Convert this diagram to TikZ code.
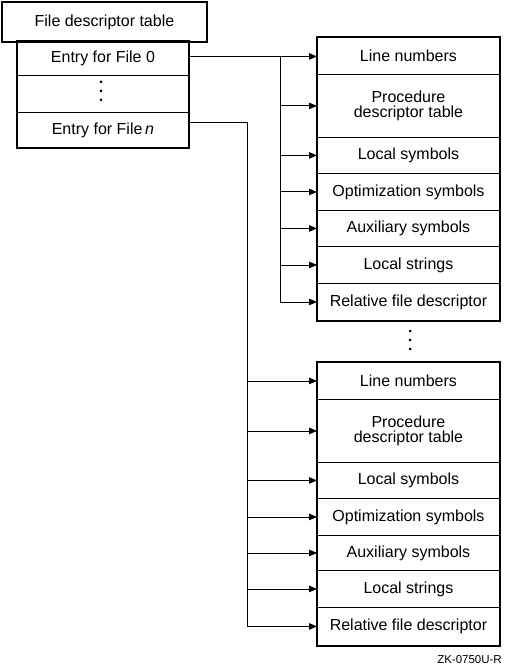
\documentclass[tikz,border=0pt]{standalone}
\usepackage{fontspec}
\setmainfont{Liberation Sans}
\usetikzlibrary{arrows.meta}
\begin{document}
\begin{tikzpicture}[x=1pt,y=-1pt,
  txt/.style={font=\fontsize{16}{17.5}\selectfont},
  cell/.style={txt,draw,line width=0.9pt,inner sep=0pt,anchor=north west,align=center},
  thickbox/.style={line width=2.2pt},
  conn/.style={line width=0.9pt},
  arr/.style={conn,-{Triangle[length=8pt,width=6.5pt]}},
  dot/.style={circle,fill,inner sep=0pt,minimum size=3pt}]
\useasboundingbox (0,0) rectangle (512,668);
% file descriptor table
\node[cell,minimum width=204,minimum height=39] (fdt) at (2,2) {File descriptor table};
\node[cell,minimum width=171,minimum height=34] (e0) at (17,41) {Entry for File 0};
\node[cell,minimum width=171,minimum height=37] (edots) at (17,75) {};
\node[cell,minimum width=171,minimum height=35] (en) at (17,112) {Entry for File\,\textit{n}};
\draw[thickbox] (fdt.north west) rectangle (fdt.south east);
\draw[thickbox] (e0.north west) rectangle (en.south east);
\node[dot] (d1) at (101,82) {};
\node[dot] (d2) at (101,91) {};
\node[dot] (d3) at (101,100) {};
% right table 1
\node[cell,minimum width=182,minimum height=37] (ln1) at (317,37) {Line numbers};
\node[cell,minimum width=182,minimum height=63] (pd1) at (317,74) {Procedure\\[-2pt]descriptor table};
\node[cell,minimum width=182,minimum height=36] (ls1) at (317,137) {Local symbols};
\node[cell,minimum width=182,minimum height=37] (os1) at (317,173) {Optimization symbols};
\node[cell,minimum width=182,minimum height=36] (as1) at (317,210) {Auxiliary symbols};
\node[cell,minimum width=182,minimum height=37] (lt1) at (317,246) {Local strings};
\node[cell,minimum width=182,minimum height=37] (rf1) at (317,283) {Relative file descriptor};
\draw[thickbox] (ln1.north west) rectangle (rf1.south east);
% dots between
\node[dot] (m1) at (410,331) {};
\node[dot] (m2) at (410,340) {};
\node[dot] (m3) at (410,349) {};
% right table 2
\node[cell,minimum width=182,minimum height=37] (ln2) at (317,362) {Line numbers};
\node[cell,minimum width=182,minimum height=63] (pd2) at (317,399) {Procedure\\[-2pt]descriptor table};
\node[cell,minimum width=182,minimum height=36] (ls2) at (317,462) {Local symbols};
\node[cell,minimum width=182,minimum height=37] (os2) at (317,498) {Optimization symbols};
\node[cell,minimum width=182,minimum height=35] (as2) at (317,535) {Auxiliary symbols};
\node[cell,minimum width=182,minimum height=37] (lt2) at (317,570) {Local strings};
\node[cell,minimum width=182,minimum height=38] (rf2) at (317,607) {Relative file descriptor};
\draw[thickbox] (ln2.north west) rectangle (rf2.south east);
% connectors from entry 0
\coordinate (b1) at (280,0);
\coordinate (s0) at ([yshift=2]e0.east);
\draw[arr] (s0) -- (s0 -| ln1.west);
\draw[conn] (b1 |- s0) -- (b1 |- rf1.west);
\foreach \n in {pd1,ls1,os1,as1,lt1,rf1} \draw[arr] (b1 |- \n.west) -- (\n.west);
% connectors from entry n
\coordinate (b2) at (247,0);
\coordinate (sn) at ([yshift=7.5]en.east);
\draw[conn] (sn) -- (b2 |- sn) -- (b2 |- rf2.west);
\foreach \n in {ln2,pd2,ls2,os2,as2,lt2,rf2} \draw[arr] (b2 |- \n.west) -- (\n.west);
\node[anchor=south east,inner sep=0pt,font=\fontsize{11.5}{12}\selectfont] (lbl) at (502,664) {ZK-0750U-R};
\end{tikzpicture}
\end{document}
